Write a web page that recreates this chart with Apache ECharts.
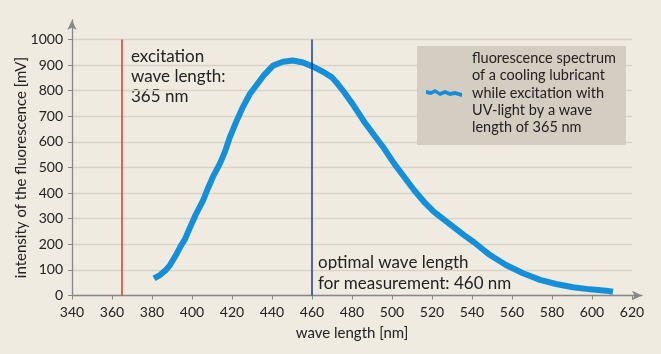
<!DOCTYPE html>
<html><head><meta charset="utf-8">
<script src="https://cdn.jsdelivr.net/npm/echarts@6/dist/echarts.min.js"></script>
<style>html,body{margin:0;padding:0;background:#f0ebe0}#c{width:661px;height:354px}</style>
</head><body><div id="c"></div>
<script>
var wavelengths = [381,384,387,389,392,394,396.5,399,402,405.5,408,410.5,414,416.5,419,422.5,425.5,429,432.5,436,440.5,445.5,450.5,455.5,460.5,465.5,470,473,476,481,486,491,496,501,506,511,516,521,526,531,536,541,549,557,565.5,574,582,590.5,599,607,610.5];
var intensity = [67,80,100,119,158,188,220,266,318,371,419,464,516,562,620,686,737,788,824,861,898,913,918,910,894,874,852,825,795,740,680,627,575,516,464,412,366,327,296,266,236,208,158,119,87,61,45,32,24,19,15];
var xTicks = {min:340, max:620, interval:20};
var yTicks = {min:0, max:1000, interval:100};
var markers = [365, 460];
var seriesName = 'fluorescence spectrum\nof a cooling lubricant\nwhile excitation with\nUV-light by a wave\nlength of 365 nm';
var noteLeft = 'excitation\nwave length:\n365 nm';
var noteRight = 'optimal wave length\nfor measurement: 460 nm';

var FONT = 'Lato';
var chart = echarts.init(document.getElementById('c'));
var pts = wavelengths.map(function(w,i){return [w,intensity[i]];});
chart.setOption({
  backgroundColor:'#f0ebe0',
  textStyle:{fontFamily:FONT},
  grid:[{left:72,right:29,top:39.5,bottom:58.5,outerBoundsMode:'none',containLabel:false},
        {left:72,right:19,top:20,bottom:58.5,outerBoundsMode:'none',containLabel:false}],
  xAxis:[{type:'value',gridIndex:0,min:xTicks.min,max:xTicks.max,interval:xTicks.interval,
    name:'wave length [nm]',nameLocation:'middle',nameGap:30,nameMoveOverlap:false,
    nameTextStyle:{fontFamily:FONT,fontSize:15,color:'#222'},
    axisLine:{show:false},axisTick:{show:true,length:4,lineStyle:{color:'#888'}},
    axisLabel:{fontFamily:FONT,fontSize:14,color:'#222',margin:10,formatter:function(v){return String(v);}},splitLine:{show:false}},
   {type:'value',gridIndex:1,min:0,max:1,axisLabel:{show:false},axisTick:{show:false},splitLine:{show:false},
    axisLine:{show:true,symbol:['none','arrow'],symbolSize:[7,10],lineStyle:{color:'#888',width:1.3}}}],
  yAxis:[{type:'value',gridIndex:0,min:yTicks.min,max:yTicks.max,interval:yTicks.interval,
    name:'intensity of the fluorescence [mV]',nameLocation:'middle',nameGap:43,nameMoveOverlap:false,
    nameTextStyle:{fontFamily:FONT,fontSize:15,color:'#222'},
    axisLine:{show:false},axisTick:{show:true,length:4,lineStyle:{color:'#888'}},
    axisLabel:{fontFamily:FONT,fontSize:14,color:'#222',margin:9,formatter:function(v){return String(v);}},
    splitLine:{show:true,lineStyle:{color:'#d9d3c7',width:1.3}}},
   {type:'value',gridIndex:1,min:0,max:1,axisLabel:{show:false},axisTick:{show:false},splitLine:{show:false},
    axisLine:{show:true,symbol:['none','arrow'],symbolSize:[7,10],lineStyle:{color:'#888',width:1.3}}}],
  legend:{show:true,orient:'vertical',left:417,top:46,width:209,
    backgroundColor:'#d4cdc2',padding:[4,10,9,9],itemWidth:36,itemHeight:10,
    icon:'path://M0,2 L5,3 L9,1 L14,4 L19,2 L24,4 L29,3 L36,5 L36,9 L29,7 L24,8 L19,6 L14,8 L9,5 L5,7 L0,6 Z',
    textStyle:{fontFamily:FONT,fontSize:14.5,color:'#222',lineHeight:17.2,padding:[0,0,0,5]},
    data:[seriesName]},
  series:[{name:seriesName,type:'line',xAxisIndex:0,yAxisIndex:0,data:pts,showSymbol:false,
    lineStyle:{color:'#1590d8',width:6},itemStyle:{color:'#1590d8'},
    markLine:{silent:true,symbol:['none','none'],label:{show:false},
      data:[{xAxis:markers[0],lineStyle:{color:'#e2392c',width:1.5,type:'solid'}},
            {xAxis:markers[1],lineStyle:{color:'#1c3a8e',width:1.5,type:'solid'}}]}}],
  graphic:[
    {type:'text',left:131,top:47,style:{text:noteLeft,font:'17px '+FONT,fill:'#222',lineHeight:20}},
    {type:'text',left:318,top:252,style:{text:noteRight,font:'17px '+FONT,fill:'#222',lineHeight:21}}
  ]
});
</script></body></html>
